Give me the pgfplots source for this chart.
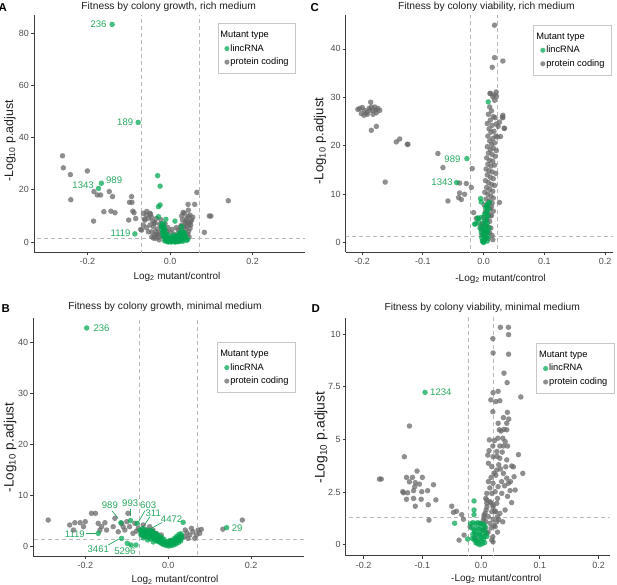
\documentclass[border=0pt]{standalone}
\usepackage{fontspec}
\setmainfont{Liberation Sans}
\usepackage{pgfplots}
\pgfplotsset{compat=1.18}
\definecolor{ptgreen}{RGB}{0,166,81}
\definecolor{ptgray}{RGB}{105,105,105}
\definecolor{lblgreen}{RGB}{40,168,95}
\definecolor{tkgray}{RGB}{77,77,77}
\definecolor{axcol}{RGB}{60,60,60}
\definecolor{dashcol}{RGB}{185,185,185}
\definecolor{lgdcol}{RGB}{200,200,200}
\definecolor{ttl}{RGB}{30,30,30}
\newcommand\fTk{\fontsize{9}{10}\selectfont}
\newcommand\fLg{\fontsize{9.3}{11}\selectfont}
\newcommand\fLb{\fontsize{9.6}{11}\selectfont}
\newcommand\fTi{\fontsize{10.3}{12}\selectfont}
\newcommand\fXl{\fontsize{10}{12}\selectfont}
\pgfplotsset{
  volc/.style={
    scale only axis, anchor=south west,
    axis x line*=bottom, axis y line*=left,
    axis line style={draw=axcol, line width=0.8bp},
    tick style={draw=axcol, line width=0.8bp},
    tick align=outside, major tick length=3bp,
    xticklabel style={font=\fTk, text=tkgray, inner sep=3bp},
    yticklabel style={font=\fTk, text=tkgray, inner sep=2bp},
    legend cell align=left,
    legend style={draw=lgdcol, line width=0.8bp, fill=white, font=\fLg,
      inner xsep=6.5bp, inner ysep=6.5bp, row sep=3.7bp, column sep=0.5bp,
      nodes={inner sep=0.5bp, text height=6.8bp, text depth=2bp}, anchor=north east},
  },
  gpt/.style={only marks, color=ptgray, mark=*, mark size=2.75bp, mark options={draw opacity=0, fill=ptgray, fill opacity=0.75}, forget plot},
  grpt/.style={only marks, color=ptgreen, mark=*, mark size=2.75bp, mark options={draw opacity=0, fill=ptgreen, fill opacity=0.72}, forget plot},
  dsh/.style={dashcol, dash pattern=on 4bp off 3bp, line width=0.7bp, forget plot},
}
\tikzset{lbl/.style={font=\fLb, text=lblgreen, inner sep=0pt},
  ldr/.style={draw=lblgreen, line width=0.7bp}}
\newcommand\legendblock{%
  \addlegendimage{empty legend}\addlegendentry{\hspace*{-10bp}Mutant type}
  \addlegendimage{legend image code/.code={\fill[ptgreen!72] (2bp,0bp) circle (2.1bp);}}\addlegendentry{lincRNA}
  \addlegendimage{legend image code/.code={\fill[ptgray!75] (2bp,0bp) circle (2.1bp);}}\addlegendentry{protein coding}}
\begin{document}
\begin{tikzpicture}
\useasboundingbox (0,0) rectangle (617bp,-585bp);
% ---------------- Panel A ----------------
\begin{axis}[volc, at={(34bp,-252.3bp)}, width=271bp, height=237.3bp,
  xmin=-0.329, xmax=0.3265, ymin=-3.94, ymax=86.9,
  xtick={-0.2,0,0.2}, xticklabels={-0.2,0.0,0.2},
  ytick={0,20,40,60,80}, yticklabels={0,20,40,60,80},
  legend style={at={(0.967,0.965)}}]
\addplot[dsh] coordinates {(-0.07,-10) (-0.07,100)};
\addplot[dsh] coordinates {(0.07,-10) (0.07,100)};
\addplot[dsh] coordinates {(-1,1.301) (1,1.301)};
\addplot[gpt] coordinates {
(-0.260,33.0) (-0.258,28.4) (-0.241,25.8) (-0.200,27.2) (-0.240,16.2) (-0.185,8.0) (-0.184,19.3) (-0.176,18.0) (-0.168,18.0) (-0.160,11.6) (-0.147,19.3) (-0.139,17.4) (-0.143,11.8) (-0.133,11.2) (-0.098,15.2) (-0.092,15.2) (-0.093,17.4) (-0.090,11.8) (-0.087,11.2) (-0.100,8.4) (-0.083,9.0) (-0.071,4.8) (-0.0645,11.0) (-0.0564,11.7) (-0.0484,11.0) (-0.0605,8.4) (-0.0524,9.1) (-0.0645,6.5) (-0.0484,6.5) (-0.0403,5.9) (-0.0443,3.9) (-0.0323,2.7) (-0.0524,3.9) (-0.0363,7.4) (-0.0685,4.6) (-0.062,8.8) (-0.057,10.3) (-0.047,10.6) (-0.038,7.2) (-0.057,5.5) (-0.037,2.7) (-0.035,1.4) (-0.030,5.0) (-0.025,3.5) (-0.020,6.0) (-0.028,1.8) (-0.015,4.5) (-0.018,2.2) (-0.012,7.0) (-0.035,4.0) (-0.042,8.0) (-0.022,8.5) (-0.044,2.0) (-0.026,0.8)
(-0.008,4.0) (-0.005,5.5) (0.0,3.8) (0.005,4.8) (0.010,3.0) (0.015,5.5) (0.020,4.5) (0.025,5.8) (0.038,7.0) (0.032,6.0) (-0.025,6.8) (-0.030,3.0) (-0.040,1.5) (0.045,6.8) (0.050,7.8) (0.040,8.0) (0.046,2.0) (-0.033,9.0) (-0.045,9.5)
(0.065,19.0) (0.0597,14.4) (0.0436,14.4) (0.0443,12.2) (0.0484,10.3) (0.0403,9.1) (0.0363,7.8) (0.0282,6.5) (0.0242,3.9) (0.0202,2.7) (0.0161,2.0) (0.0468,7.2) (0.0524,8.4) (0.0484,5.2) (0.0323,3.9) (0.035,11.0) (0.040,6.0) (0.045,4.0) (0.030,8.5) (0.038,5.0) (0.050,6.5) (0.042,3.0) (0.028,10.0) (0.034,2.5) (0.055,9.5) (0.044,9.8) (0.0315,11.3) (0.028,3.0) (0.036,1.5) (0.010,1.2) (0.024,1.0) (0.083,3.7) (0.095,9.95) (0.099,9.95) (0.141,15.8)};
\addplot[grpt] coordinates {
(-0.140,83.3) (-0.077,45.8) (-0.166,22.5) (-0.173,20.5) (-0.085,3.1)
(-0.030,25.4) (-0.024,21.4) (-0.024,14.2) (-0.028,13.5) (-0.028,9.7) (-0.010,8.7) (0.012,8.0) (0.043,1.0) (0.028,5.9)
(-0.020,7.0) (-0.018,6.2) (-0.017,5.5) (-0.019,4.8) (-0.016,4.0) (-0.015,3.3) (-0.017,2.6) (-0.014,1.9) (-0.012,1.2) (-0.010,0.6) (-0.007,0.2) (-0.004,0.0) (0.0,0.3) (0.002,0.8) (0.004,0.2) (0.006,0.5) (0.008,1.0) (0.010,0.3) (0.012,0.6) (0.014,0.1) (0.016,0.9) (0.018,0.4) (0.020,1.5) (0.022,0.8) (0.024,2.2) (0.026,1.4) (0.028,3.0) (0.030,2.0) (0.032,3.8) (0.034,1.2) (-0.011,3.0) (-0.008,2.0) (-0.005,1.3) (0.001,2.0) (0.005,1.6) (-0.021,5.8) (-0.015,6.8) (0.003,1.2) (0.009,1.8) (0.013,1.4) (0.017,2.5) (0.021,3.2) (0.025,0.4) (0.036,2.6) (-0.012,4.5) (-0.002,0.6) (0.019,0.1) (0.029,0.7) (-0.013,0.4)
(-0.015,2.0) (-0.010,1.5) (-0.005,0.8) (0.000,1.2) (0.005,0.9) (0.010,1.3) (0.015,1.7) (0.020,2.4) (0.025,2.8) (0.030,3.4) (0.034,2.2) (-0.018,3.6) (-0.013,5.2) (-0.009,0.9) (0.012,0.0) (0.022,0.2) (0.031,0.3) (0.008,2.6) (0.003,0.0) (-0.006,2.8) (0.027,4.2) (0.035,3.5) (0.038,1.8) (0.040,0.6)};
\node[lbl, anchor=east] at (axis cs:-0.153,83.3) {236};
\node[lbl, anchor=east] at (axis cs:-0.0887,45.8) {189};
\node[lbl, anchor=west] at (axis cs:-0.155,23.7) {989};
\node[lbl, anchor=east] at (axis cs:-0.184,21.8) {1343};
\node[lbl, anchor=east] at (axis cs:-0.095,3.3) {1119};
\legendblock
\end{axis}
% ---------------- Panel C ----------------
\begin{axis}[volc, at={(345.7bp,-252.3bp)}, width=267.3bp, height=237.3bp,
  xmin=-0.227, xmax=0.213, ymin=-2.0, ymax=47.0,
  xtick={-0.2,-0.1,0,0.1,0.2}, xticklabels={-0.2,-0.1,0.0,0.1,0.2},
  ytick={0,10,20,30,40}, yticklabels={0,10,20,30,40},
  legend style={at={(0.996,0.958)}}]
\addplot[dsh] coordinates {(-0.022,-10) (-0.022,100)};
\addplot[dsh] coordinates {(0.022,-10) (0.022,100)};
\addplot[dsh] coordinates {(-1,1.301) (1,1.301)};
\addplot[gpt] coordinates {
(-0.204,27.7) (-0.1997,27.9) (-0.1958,27.3) (-0.2013,26.65) (-0.193,26.8) (-0.1886,27.7) (-0.1848,28.0) (-0.182,27.3) (-0.1776,27.4) (-0.1738,27.7) (-0.171,27.3) (-0.1766,26.8) (-0.182,26.5) (-0.1914,26.5) (-0.1859,29.0) (-0.1848,23.2) (-0.1766,24.0) (-0.1969,26.3) (-0.1875,27.3) (-0.1793,28.0) (-0.207,27.5)
(-0.1437,20.8) (-0.1382,21.4) (-0.1256,20.3) (-0.1245,20.3) (-0.162,12.5) (-0.0752,18.4) (-0.0669,15.5) (-0.0187,15.3) (-0.0587,8.6) (-0.0395,12.3) (-0.0285,12.2) (-0.0203,11.4) (-0.0395,10.25) (-0.0313,9.98) (-0.0411,9.3) (-0.0367,8.9) (-0.0164,6.2) (-0.012,5.0) (-0.005,3.5)
(0.018,44.9) (0.018,38.2) (0.0317,37.5) (0.0142,36.2) (0.0114,30.8) (0.0152,30.1) (0.0207,31.1) (0.018,29.4) (0.0317,26.3) (0.0317,25.8) (0.0262,24.9) (0.0344,23.6) (0.0278,21.9) (0.0262,8.3) (0.0152,0.6) (0.0104,30.8) (0.0175,30.5) (0.0212,30.2) (0.031,25.9) (0.0339,23.6) (0.0227,21.8)
(0.010,28.0) (0.013,27.2) (0.008,26.5) (0.016,26.0) (0.011,25.3) (0.019,25.8) (0.006,24.6) (0.014,24.2) (0.021,24.5) (0.024,24.0)
(0.009,23.5) (0.012,22.8) (0.017,23.0) (0.007,22.0) (0.015,21.5) (0.020,22.0) (0.010,21.0) (0.013,20.3) (0.018,20.6) (0.006,19.8) (0.011,19.2) (0.016,19.5) (0.021,19.0) (0.008,18.5) (0.014,18.2) (0.019,17.8)
(0.005,17.5) (0.010,17.0) (0.015,16.8) (0.007,16.2) (0.012,15.8) (0.018,16.0) (0.004,15.2) (0.009,14.8) (0.014,14.6) (0.020,14.3) (0.006,14.0) (0.011,13.5) (0.016,13.2) (0.003,12.8) (0.008,12.4) (0.013,12.0) (0.018,11.8) (0.005,11.4) (0.010,11.0) (0.015,10.6) (0.002,10.4) (0.007,10.0) (0.012,9.6)
(0.016,9.2) (0.004,9.0) (0.009,8.6) (0.014,8.2) (0.001,7.8) (0.006,7.4) (0.011,7.0) (0.003,6.4) (0.008,6.0) (0.013,5.6) (0.000,5.2) (0.005,4.8) (0.010,4.4) (-0.002,4.0) (0.003,3.6) (0.008,3.2) (-0.004,2.8) (0.001,2.4) (0.006,2.0) (-0.003,1.6) (0.002,1.2) (0.007,0.8) (-0.001,0.4)
(0.012,3.0) (0.014,1.5) (0.011,5.5) (0.016,6.5) (0.013,7.5) (0.010,2.0)};
\addplot[grpt] coordinates {
(-0.0275,17.35) (-0.0444,12.4) (0.0076,29.05) (-0.005,9.09) (-0.004,8.4) (0.0096,8.3) (0.0058,7.8) (-0.0094,5.1) (-0.0148,3.8) (-0.004,5.2) (0.0016,5.9) (-0.013,3.9) (-0.009,4.9)
(0.000,0.2) (0.002,0.6) (0.004,1.0) (0.001,1.5) (0.003,2.0) (0.005,2.5) (0.002,3.0) (0.004,3.5) (0.006,4.0) (0.003,4.5) (0.005,5.0) (0.007,5.5) (0.004,6.0) (0.006,6.5) (0.008,7.0) (0.005,7.5) (-0.002,0.3) (-0.003,1.0) (-0.001,1.8) (0.000,2.6) (-0.002,3.4) (0.001,4.2) (0.000,0.0) (0.006,0.3) (0.008,1.2) (0.007,2.2) (-0.004,2.2) (-0.006,3.0) (0.009,3.0) (-0.008,4.2) (0.007,8.0) (0.003,7.2)};
\node[lbl, anchor=east] at (axis cs:-0.0378,17.2) {989};
\node[lbl, anchor=east] at (axis cs:-0.0505,12.4) {1343};
\legendblock
\end{axis}
% ---------------- Panel B ----------------
\begin{axis}[volc, at={(33.3bp,-556bp)}, width=270.7bp, height=237.7bp,
  xmin=-0.326, xmax=0.328, ymin=-1.96, ymax=44.7,
  xtick={-0.2,0,0.2}, xticklabels={-0.2,0.0,0.2},
  ytick={0,10,20,30,40}, yticklabels={0,10,20,30,40},
  legend style={at={(0.970,0.899)}}]
\addplot[dsh] coordinates {(-0.07,-10) (-0.07,100)};
\addplot[dsh] coordinates {(0.07,-10) (0.07,100)};
\addplot[dsh] coordinates {(-1,1.301) (1,1.301)};
\addplot[gpt] coordinates {
(-0.290,5.1) (-0.238,4.13) (-0.2256,4.58) (-0.2128,4.58) (-0.2047,3.8) (-0.229,3.14) (-0.2006,4.78)
(-0.1855,6.42) (-0.1758,6.42) (-0.1692,4.45) (-0.161,3.8) (-0.1531,4.58) (-0.149,3.14) (-0.165,3.14)
(-0.1289,5.44) (-0.133,3.8) (-0.1128,4.45) (-0.109,3.8) (-0.1001,4.78) (-0.0935,3.8) (-0.1048,3.14) (-0.1208,2.8) (-0.0975,6.42)
(-0.0805,4.45) (-0.0725,3.47) (-0.0605,4.13) (-0.0524,3.14) (-0.0451,3.8) (-0.037,3.14) (-0.029,2.49) (-0.0169,2.16) (-0.0854,2.49) (-0.0645,2.16) (-0.0767,2.9) (-0.058,1.9) (-0.040,2.2) (-0.024,1.6)
(0.0411,3.14) (0.052,2.16) (0.0598,2.8) (0.068,2.16) (0.072,3.14) (0.080,3.27) (0.0640,1.5) (0.048,1.5) (0.056,3.47) (0.0396,1.83) (0.076,2.5) (0.045,2.6)
(0.132,3.3) (0.179,5.1)};
\addplot[grpt] coordinates {
(-0.197,42.8) (0.141,3.6) (-0.1144,4.58) (-0.091,5.0) (-0.075,4.45) (-0.068,3.1) (-0.064,2.5) (0.036,4.65) (-0.169,2.49) (-0.1127,1.5) (-0.099,0.52) (-0.090,0.2) (-0.078,0.2)
(-0.062,3.4) (-0.058,2.8) (-0.055,3.2) (-0.052,2.2) (-0.048,2.6) (-0.045,1.9) (-0.042,2.3) (-0.038,1.5) (-0.035,2.0) (-0.032,1.2) (-0.028,1.6) (-0.025,0.9) (-0.022,1.3) (-0.018,0.6) (-0.015,1.0) (-0.012,0.3) (-0.008,0.7) (-0.005,0.1) (-0.002,0.5) (0.001,0.0) (0.004,0.4) (0.007,0.1) (0.010,0.6) (0.013,0.2) (0.016,0.9) (0.019,0.4) (0.022,1.2) (0.025,0.7) (0.028,1.6) (0.030,1.0) (0.032,2.0) (-0.040,2.9) (-0.030,2.4) (-0.020,1.8) (-0.010,1.3) (0.000,0.9) (0.008,1.1) (0.015,1.5) (0.020,1.9) (0.026,2.3) (-0.066,2.2) (-0.050,1.2) (-0.036,0.8) (-0.060,1.6)
(-0.065,3.0) (-0.060,2.6) (-0.057,2.0) (-0.053,2.7) (-0.050,1.8) (-0.046,2.4) (-0.043,1.4) (-0.040,1.9) (-0.037,2.6) (-0.034,1.5) (-0.031,1.9) (-0.027,1.1) (-0.024,1.5) (-0.021,0.8) (-0.017,1.2) (-0.014,0.5) (-0.011,0.9) (-0.007,0.3) (-0.004,0.7) (0.000,0.3) (0.003,0.7) (0.006,0.3) (0.009,0.9) (0.012,0.5) (0.015,1.2) (0.018,0.7) (0.021,1.5) (0.024,1.0) (0.027,1.9) (0.029,1.3) (0.031,2.4) (0.033,1.6) (-0.045,3.1) (-0.038,2.9) (-0.025,2.2) (-0.015,1.6) (0.005,1.1) (0.012,1.0)};
\node[lbl, anchor=west] at (axis cs:-0.181,42.8) {236};
\node[lbl, anchor=west] at (axis cs:0.153,3.47) {29};
\node[lbl] at (axis cs:-0.141,8.06) {989};
\node[lbl] at (axis cs:-0.0919,8.38) {993};
\node[lbl] at (axis cs:-0.0484,8.06) {603};
\node[lbl] at (axis cs:-0.0363,6.42) {311};
\node[lbl] at (axis cs:0.0082,5.24) {4472};
\node[lbl] at (axis cs:-0.2256,2.36) {1119};
\node[lbl] at (axis cs:-0.169,-0.65) {3461};
\node[lbl] at (axis cs:-0.1047,-0.98) {5296};
\draw[ldr] (axis cs:-0.1354,6.88) -- (axis cs:-0.121,5.44);
\draw[ldr] (axis cs:-0.0911,7.2) -- (axis cs:-0.0911,5.9);
\draw[ldr] (axis cs:-0.0563,6.94) -- (axis cs:-0.0720,4.7);
\draw[ldr] (axis cs:-0.0443,5.76) -- (axis cs:-0.0643,3.3);
\draw[ldr] (axis cs:-0.016,4.58) -- (axis cs:-0.0605,2.6);
\draw[ldr] (axis cs:-0.199,2.49) -- (axis cs:-0.175,2.49);
\draw[ldr] (axis cs:-0.145,0.2) -- (axis cs:-0.121,1.31);
\draw[ldr] (axis cs:-0.0905,-0.13) -- (axis cs:-0.0915,0.3);
\legendblock
\end{axis}
% ---------------- Panel D ----------------
\begin{axis}[volc, at={(345.7bp,-555.7bp)}, width=264bp, height=237.7bp,
  xmin=-0.2305, xmax=0.219, ymin=-0.52, ymax=10.77,
  xtick={-0.2,-0.1,0,0.1,0.2}, xticklabels={-0.2,-0.1,0.0,0.1,0.2},
  ytick={0,2.5,5,7.5,10}, yticklabels={0,2.5,5,7.5,10},
  legend style={at={(1.019,0.894)}}]
\addplot[dsh] coordinates {(-0.021,-10) (-0.021,100)};
\addplot[dsh] coordinates {(0.021,-10) (0.021,100)};
\addplot[dsh] coordinates {(-1,1.301) (1,1.301)};
\addplot[gpt] coordinates {
(0.033,10.33) (0.0466,10.33) (0.0468,9.98) (0.020,9.79) (0.0204,9.11) (0.0468,9.05) (0.039,8.15) (0.0443,7.70) (0.0676,7.02) (0.0204,7.22) (0.0289,7.29) (0.0166,6.88) (0.0251,6.80) (0.0319,6.84) (0.020,6.32) (0.0448,6.29) (0.038,6.04) (0.0471,5.97) (0.0437,5.77) (0.029,5.77) (0.039,5.48) (0.031,5.46) (0.0437,5.46) (0.037,5.06) (0.0285,5.06) (0.0142,4.98) (0.0227,4.95) (0.038,4.69) (0.032,4.69) (0.020,4.69) (0.045,4.69) (0.0136,4.47) (0.0268,4.43) (0.0636,4.28)
(0.0114,4.26) (0.0204,4.18) (0.0319,4.11) (0.0437,4.03) (0.0522,3.74) (0.0710,3.39) (0.0562,3.23) (0.0465,2.92) (0.0494,2.57) (0.0125,3.87) (0.0182,3.71) (0.0267,3.55) (0.0380,3.39) (0.0125,3.0) (0.0204,2.92) (0.0289,2.76) (0.0437,3.16) (0.0097,2.44) (0.0182,2.44) (0.0239,2.52) (0.0352,2.44) (0.0153,2.04) (0.0097,1.97) (0.0204,1.89) (0.0267,1.97) (0.0409,1.65) (0.0319,1.49) (0.0182,1.57) (0.0068,1.49) (0.0125,1.33) (0.0204,1.21) (0.0369,1.09) (0.0153,1.02)
(0.030,3.8) (0.025,3.3) (0.035,3.0) (0.015,2.7) (0.028,2.2) (0.033,3.6) (0.022,3.4) (0.040,2.8) (0.010,1.8) (0.024,1.6) (0.030,1.2) (0.008,1.1) (0.017,0.8) (0.012,0.6) (0.005,1.3) (0.036,4.4) (0.042,3.7) (0.050,3.0) (0.055,3.7) (0.058,2.6) (0.027,4.2) (0.034,5.4) (0.041,4.9) (0.017,3.2) (0.045,2.3) (0.052,2.0) (0.008,2.2) (0.022,0.9) (0.028,0.6) (0.003,0.7)
(0.0040,1.17) (-0.0017,1.02) (0.0068,0.78) (0.0182,0.22) (0.0097,0.54) (0.0239,0.86) (0.0267,1.09) (0.0085,1.65) (0.0051,1.41) (0.0097,2.12) (0.0165,1.99) (0.0204,1.8) (0.0239,1.57) (0.0279,1.33) (0.0199,0.38) (0.0204,0.14)
(-0.122,5.64) (-0.1306,4.18) (-0.173,3.12) (-0.170,3.12) (-0.109,3.50) (-0.127,3.2) (-0.117,3.2) (-0.100,3.2) (-0.122,2.99) (-0.112,2.95) (-0.105,2.88) (-0.113,2.76) (-0.081,2.85) (-0.1334,2.52) (-0.125,2.47) (-0.115,2.57) (-0.101,2.52) (-0.091,2.57) (-0.132,2.47) (-0.127,2.16) (-0.115,2.2) (-0.102,2.16) (-0.077,2.13) (-0.112,1.83) (-0.090,1.9) (-0.0887,1.17)
(-0.050,1.83) (-0.047,1.54) (-0.042,1.59) (-0.033,1.43) (-0.030,1.21) (-0.0187,0.86) (-0.0375,0.22) (-0.029,0.46) (-0.0102,0.31)};
\addplot[grpt] coordinates {
(-0.0954,7.24) (-0.012,2.08) (-0.012,1.65) (-0.012,1.43) (-0.045,1.02) (-0.023,0.27)
(-0.018,1.0) (-0.014,1.05) (-0.010,1.0) (-0.006,1.05) (-0.002,1.0) (0.002,1.0) (0.005,0.95) (-0.016,0.8) (-0.012,0.7) (-0.008,0.8) (-0.004,0.75) (0.000,0.8) (0.004,0.7) (-0.014,0.5) (-0.010,0.45) (-0.006,0.5) (-0.002,0.45) (0.002,0.5) (0.006,0.4) (-0.012,0.25) (-0.008,0.2) (-0.004,0.25) (0.000,0.2) (0.004,0.25) (0.008,0.6) (-0.006,0.05) (-0.002,0.0) (0.002,0.05) (-0.009,0.1) (0.006,0.1) (0.010,0.4) (-0.015,0.3) (-0.003,0.6) (0.001,0.35) (-0.011,0.6) (0.007,0.85)};
\node[lbl, anchor=west] at (axis cs:-0.0869,7.24) {1234};
\legendblock
\end{axis}
% ---------------- outer text ----------------
\node[font=\fontsize{11.5}{12}\selectfont\bfseries, anchor=base west, inner sep=0] at (-1.5bp,-11.7bp) {A};
\node[font=\fontsize{11.5}{12}\selectfont\bfseries, anchor=base west, inner sep=0] at (310.5bp,-11.7bp) {C};
\node[font=\fontsize{11.5}{12}\selectfont\bfseries, anchor=base west, inner sep=0] at (1.5bp,-312.7bp) {B};
\node[font=\fontsize{11.5}{12}\selectfont\bfseries, anchor=base west, inner sep=0] at (311.5bp,-312.7bp) {D};
\node[font=\fTi, text=ttl, anchor=base, inner sep=0] at (168.7bp,-9.7bp) {Fitness by colony growth, rich medium};
\node[font=\fTi, text=ttl, anchor=base, inner sep=0] at (486.3bp,-9.7bp) {Fitness by colony viability, rich medium};
\node[font=\fTi, text=ttl, anchor=base, inner sep=0] at (165bp,-309.7bp) {Fitness by colony growth, minimal medium};
\node[font=\fTi, text=ttl, anchor=base, inner sep=0] at (482.2bp,-310.4bp) {Fitness by colony viability, minimal medium};
\node[font=\fXl, text=ttl, anchor=base, inner sep=0] at (177bp,-279.3bp) {Log\textsubscript{2} mutant/control};
\node[font=\fXl, text=ttl, anchor=base, inner sep=0] at (500.5bp,-281.3bp) {-Log\textsubscript{2} mutant/control};
\node[font=\fXl, text=ttl, anchor=base, inner sep=0] at (175bp,-582.5bp) {Log\textsubscript{2} mutant/control};
\node[font=\fXl, text=ttl, anchor=base, inner sep=0] at (496.3bp,-581bp) {-Log\textsubscript{2} mutant/control};
\node[font=\fontsize{12.4}{14}\selectfont, text=ttl, rotate=90, inner sep=0] at (10bp,-141bp) {-Log\textsubscript{10} p.adjust};
\node[font=\fontsize{13.2}{15}\selectfont, text=ttl, rotate=90, inner sep=0] at (320bp,-141bp) {-Log\textsubscript{10} p.adjust};
\node[font=\fontsize{13.6}{15}\selectfont, text=ttl, rotate=90, inner sep=0] at (10bp,-447.5bp) {-Log\textsubscript{10} p.adjust};
\node[font=\fontsize{14}{16}\selectfont, text=ttl, rotate=90, inner sep=0] at (321bp,-437.5bp) {-Log\textsubscript{10} p.adjust};
\end{tikzpicture}
\end{document}
